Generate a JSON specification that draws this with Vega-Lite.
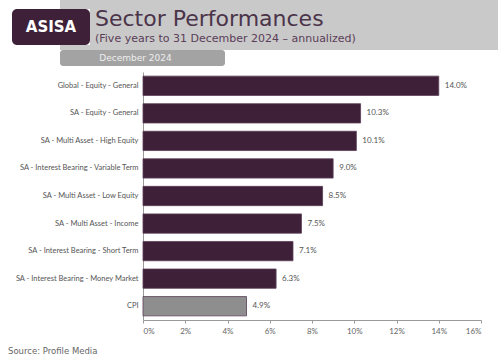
{
  "$schema": "https://vega.github.io/schema/vega-lite/v6.json",
  "padding": 0,
  "spacing": 0,
  "config": {
    "view": {"stroke": null},
    "font": "DejaVu Sans",
    "concat": {"spacing": 0}
  },
  "vconcat": [
    {
      "spacing": 0,
      "hconcat": [
        {"width": 12, "height": 50, "data": {"values": []}, "mark": "point", "encoding": {}},
        {
          "spacing": 0,
          "vconcat": [
            {
              "spacing": 0,
              "hconcat": [
                {"width": 48, "height": 9, "data": {"values": []}, "mark": "point", "encoding": {}},
                {"width": 30, "height": 9, "view": {"fill": "#c9c9c9", "stroke": null}, "data": {"values": []}, "mark": "point", "encoding": {}}
              ]
            },
            {
              "width": 78, "height": 36,
              "view": {"fill": "#3e2139", "stroke": null, "cornerRadius": 5},
              "data": {"values": [{"logo": "ASISA"}]},
              "mark": {"type": "text", "color": "#ffffff", "fontSize": 15, "fontWeight": "bold", "baseline": "middle", "align": "center"},
              "encoding": {"text": {"field": "logo"}}
            },
            {
              "spacing": 0,
              "hconcat": [
                {"width": 48, "height": 5, "data": {"values": []}, "mark": "point", "encoding": {}},
                {"width": 30, "height": 5, "view": {"fill": "#c9c9c9", "stroke": null}, "data": {"values": []}, "mark": "point", "encoding": {}}
              ]
            }
          ]
        },
        {
          "width": 408, "height": 50,
          "view": {"fill": "#c9c9c9", "stroke": null},
          "title": {
            "text": "Sector Performances",
            "subtitle": "(Five years to 31 December 2024 – annualized)",
            "orient": "top", "anchor": "start", "frame": "group",
            "dx": 5, "offset": -45,
            "fontSize": 22, "fontWeight": "normal", "color": "#4b3449",
            "subtitleFontSize": 11, "subtitleColor": "#5a3d57", "subtitlePadding": 2
          },
          "data": {"values": []}, "mark": "point", "encoding": {}
        }
      ]
    },
    {
      "spacing": 0,
      "hconcat": [
        {"width": 60, "height": 16, "data": {"values": []}, "mark": "point", "encoding": {}},
        {
          "width": 165, "height": 16,
          "view": {"fill": "#a3a3a3", "stroke": null, "cornerRadius": 3},
          "data": {"values": [{"tab": "December 2024"}]},
          "mark": {"type": "text", "color": "#eeeeee", "fontSize": 9, "baseline": "middle", "align": "center", "dx": -7},
          "encoding": {"text": {"field": "tab"}}
        }
      ]
    },
    {"width": 10, "height": 6, "data": {"values": []}, "mark": "point", "encoding": {}},
    {
      "spacing": 0,
      "hconcat": [
        {"width": 8, "height": 248, "data": {"values": []}, "mark": "point", "encoding": {}},
        {
          "width": 338, "height": 248,
          "title": {
            "text": "Source:  Profile Media",
            "orient": "bottom", "anchor": "start", "frame": "group",
            "dx": -135, "offset": 12,
            "fontSize": 8.5, "fontWeight": "normal", "color": "#666666"
          },
          "data": {
            "values": [
              {"sector": "Global - Equity - General", "value": 0.140, "kind": "Sector"},
              {"sector": "SA - Equity - General", "value": 0.103, "kind": "Sector"},
              {"sector": "SA - Multi Asset - High Equity", "value": 0.101, "kind": "Sector"},
              {"sector": "SA - Interest Bearing - Variable Term", "value": 0.090, "kind": "Sector"},
              {"sector": "SA - Multi Asset - Low Equity", "value": 0.085, "kind": "Sector"},
              {"sector": "SA - Multi Asset - Income", "value": 0.075, "kind": "Sector"},
              {"sector": "SA - Interest Bearing - Short Term", "value": 0.071, "kind": "Sector"},
              {"sector": "SA - Interest Bearing - Money Market", "value": 0.063, "kind": "Sector"},
              {"sector": "CPI", "value": 0.049, "kind": "CPI"}
            ]
          },
          "encoding": {
            "y": {
              "field": "sector", "type": "nominal", "sort": null,
              "scale": {"paddingInner": 0.3, "paddingOuter": 0.15},
              "axis": {
                "title": null, "ticks": false, "labelPadding": 5,
                "labelFont": "Lato", "labelFontSize": 7.5, "labelColor": "#555555",
                "domainColor": "#9a9a9a", "labelLimit": 200
              }
            },
            "x": {
              "field": "value", "type": "quantitative",
              "scale": {"domain": [0, 0.16], "nice": false},
              "axis": {
                "title": null, "values": [0, 0.02, 0.04, 0.06, 0.08, 0.1, 0.12, 0.14, 0.16],
                "format": ".0%", "grid": false, "tickSize": 3, "tickColor": "#9a9a9a",
                "domainColor": "#9a9a9a", "labelPadding": 4,
                "labelFont": "Lato", "labelFontSize": 8, "labelColor": "#666666"
              }
            }
          },
          "layer": [
            {
              "mark": {"type": "bar", "stroke": "#5a3d57", "strokeWidth": 0.8},
              "encoding": {
                "color": {
                  "field": "kind", "type": "nominal",
                  "scale": {"domain": ["Sector", "CPI"], "range": ["#3e2139", "#8e8e8e"]},
                  "legend": null
                }
              }
            },
            {
              "mark": {"type": "text", "align": "left", "baseline": "middle", "dx": 6, "font": "Lato", "fontSize": 8, "color": "#555555"},
              "encoding": {"text": {"field": "value", "type": "quantitative", "format": ".1%"}}
            }
          ]
        }
      ]
    }
  ]
}
